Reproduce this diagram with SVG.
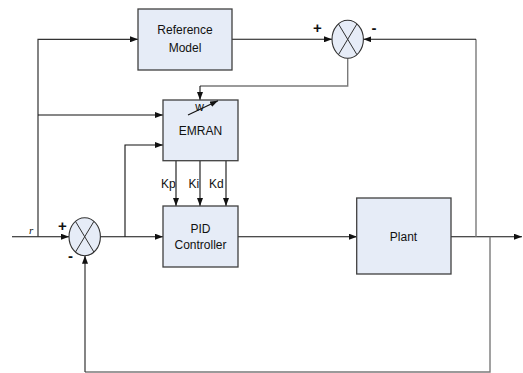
<svg xmlns="http://www.w3.org/2000/svg" width="523" height="373" viewBox="0 0 523 373">
<style>
.box{fill:#e6ecf7;stroke:#404040;stroke-width:1.3}
.sum{fill:#e6ecf7;stroke:#303030;stroke-width:1.1}
.x{stroke:#303030;stroke-width:1;fill:none}
.w{fill:none;stroke:#111;stroke-width:1.1}
.g{fill:none;stroke:#7a7a7a;stroke-width:1.4}
.d{fill:none;stroke:#333;stroke-width:1.2}
text{font-family:"Liberation Sans",Arial,sans-serif;font-size:12px;fill:#111}
.s{font-size:15px;font-weight:bold}
</style>
<defs>
<marker id="a" viewBox="0 0 8 6" refX="8" refY="3" markerWidth="8" markerHeight="6" markerUnits="userSpaceOnUse" orient="auto">
<path d="M0,0 L8,3 L0,6 Z" fill="#111"/>
</marker>
</defs>
<rect width="523" height="373" fill="#fff"/>
<g id="connectors">
<path class="w" d="M12,236.7 H69" marker-end="url(#a)"/>
<path class="d" d="M38,236.7 V39.3 H138" marker-end="url(#a)"/>
<path class="w" d="M38,115 H163" marker-end="url(#a)"/>
<path class="w" d="M232,39.3 H332" marker-end="url(#a)"/>
<path class="w" d="M100.4,236.7 H163" marker-end="url(#a)"/>
<path class="w" d="M125,236.7 V145 H163" marker-end="url(#a)"/>
<path class="g" d="M347.7,58.3 V86 H200"/>
<path class="w" d="M200,86 V100" marker-end="url(#a)"/>
<path class="w" d="M176,160.7 V206" marker-end="url(#a)"/>
<path class="w" d="M200,160.7 V206" marker-end="url(#a)"/>
<path class="w" d="M226,160.7 V206" marker-end="url(#a)"/>
<path class="w" d="M238,236.7 H357" marker-end="url(#a)"/>
<path class="w" d="M451,236.7 H522" marker-end="url(#a)"/>
<path class="g" d="M476,236.7 V39.3"/>
<path class="w" d="M476,39.3 H363.4" marker-end="url(#a)"/>
<path class="g" d="M490,236.7 V372 H85"/>
<path class="d" d="M85,372 V255.7" marker-end="url(#a)"/>
</g>
<g id="reference-model">
<rect class="box" x="138" y="9" width="94" height="61"/>
<text x="185" y="34" text-anchor="middle">Reference</text>
<text x="185" y="52" text-anchor="middle">Model</text>
</g>
<g id="sum-top">
<ellipse class="sum" cx="347.7" cy="39.3" rx="15.7" ry="19"/>
<path class="x" d="M338.5,24 L356.9,54.6 M356.9,24 L338.5,54.6"/>
<text class="s" x="317.5" y="33" text-anchor="middle">+</text>
<text class="s" x="374" y="33" text-anchor="middle">-</text>
</g>
<g id="emran">
<rect class="box" x="163" y="100" width="75" height="60.7"/>
<text x="200.5" y="135" text-anchor="middle">EMRAN</text>
<text x="199.5" y="110.5" text-anchor="middle">w</text>
<path class="w" d="M188,115 L218,100.7" marker-end="url(#a)"/>
</g>
<g id="gain-labels">
<text x="161" y="188">Kp</text>
<text x="188.5" y="188">Ki</text>
<text x="209" y="188">Kd</text>
</g>
<g id="pid">
<rect class="box" x="163" y="206" width="75" height="61"/>
<text x="200.5" y="233" text-anchor="middle">PID</text>
<text x="200.5" y="249" text-anchor="middle">Controller</text>
</g>
<g id="plant">
<rect class="box" x="356.7" y="198" width="94.3" height="76"/>
<text x="403.5" y="241" text-anchor="middle">Plant</text>
</g>
<g id="sum-bottom">
<ellipse class="sum" cx="84.7" cy="236.7" rx="15.7" ry="19"/>
<path class="x" d="M75.5,221.4 L93.9,252 M93.9,221.4 L75.5,252"/>
<text class="s" x="62.5" y="230.5" text-anchor="middle">+</text>
<text class="s" x="70.5" y="261" text-anchor="middle">-</text>
<text x="29" y="234" font-style="italic" style="font-family:'Liberation Serif',serif;font-size:11px">r</text>
</g>
</svg>
